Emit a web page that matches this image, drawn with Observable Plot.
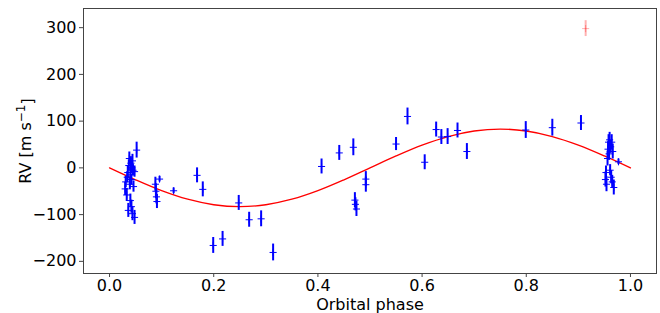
<!DOCTYPE html>
<html>
<head>
<meta charset="utf-8">
<script src="https://cdn.jsdelivr.net/npm/d3@7"></script>
<script src="https://cdn.jsdelivr.net/npm/@observablehq/plot@0.6"></script>
<style>
  html, body { margin: 0; padding: 0; background: #fff; }
</style>
</head>
<body>
<div id="chart"></div>
<script>
// Blue measurements: phase, RV (m/s), error (m/s)
const phase = [
  0.030,0.031,0.033,0.034,0.035,0.036,0.037,0.038,0.039,0.040,0.040,0.041,0.042,0.042,0.043,0.044,0.044,0.045,0.046,0.048,0.048,0.052,
  0.088,0.089,0.090,0.091,0.096,0.123,
  0.168,0.179,0.199,0.217,0.248,0.268,0.291,0.314,
  0.407,0.441,0.468,0.471,0.472,0.474,0.492,0.492,0.550,0.572,0.605,0.627,0.637,0.649,0.668,0.686,
  0.799,0.850,0.905,
  0.952,0.953,0.954,0.956,0.957,0.958,0.959,0.960,0.961,0.962,0.963,0.964,0.965,0.966,0.968,0.977
];
const rv = [
  -45,-30,-58,-20,-10,-91,5,20,-35,-70,-15,10,-25,-83,0,15,-98,-5,-40,-106,-8,38,
  -35,-50,-62,-72,-24,-49,
  -16,-46,-166,-152,-75,-111,-109,-181,
  3,32,44,-69,-78,-88,-24,-36,51,110,12,82,66,67,80,35,
  81,86,96,
  -25,-10,-35,20,40,55,30,60,-5,45,-20,55,-30,35,-42,13
];
const err = [
  14,12,14,12,14,15,12,14,12,14,12,14,12,14,12,14,15,12,12,15,12,17,
  15,16,15,15,6,6,
  16,16,17,16,16,16,17,18,
  16,16,18,16,14,16,16,16,14,18,16,16,16,17,16,17,
  18,18,16,
  16,14,16,16,16,16,14,16,12,14,14,16,14,16,16,6
];
// Faded outlier
const outPhase = [0.914];
const outRv = [298];
const outErr = [17];
// Fitted curve
const fitPhase = [0,0.05,0.10,0.15,0.20,0.25,0.30,0.35,0.40,0.45,0.50,0.55,0.60,0.65,0.70,0.75,0.80,0.85,0.90,0.95,1.00];
const fitRv = [0,-25.6,-48.8,-67.1,-78.9,-83,-78.9,-67.1,-48.8,-25.6,0,25.6,48.8,67.1,78.9,83,78.9,67.1,48.8,25.6,0];
const xTicks = [0,0.2,0.4,0.6,0.8,1.0];
const yTicks = [-200,-100,0,100,200,300];

const pts = phase.map((p,i) => ({p, v: rv[i], e: err[i]}));
const outs = outPhase.map((p,i) => ({p, v: outRv[i], e: outErr[i]}));
const fit = fitPhase.map((p,i) => ({p, v: fitRv[i]}));

const plusSymbol = {
  draw(ctx, size) {
    const r = Math.sqrt(size) / 2;
    ctx.moveTo(-r, 0); ctx.lineTo(r, 0);
    ctx.moveTo(0, -r); ctx.lineTo(0, r);
  }
};

const chart = Plot.plot({
  width: 660,
  height: 313,
  marginLeft: 83,
  marginRight: 4,
  marginTop: 8,
  marginBottom: 40,
  style: {fontFamily: "DejaVu Sans", fontSize: "16px", background: "#fff", color: "#000"},
  x: {domain: [-0.05, 1.05]},
  y: {domain: [-226, 341]},
  marks: [
    Plot.frame({stroke: "#444", strokeWidth: 1}),
    Plot.axisX({ticks: xTicks, tickFormat: d3.format(".1f"), tickSize: 4, tickPadding: 2, fontSize: 16,
      label: "Orbital phase", labelAnchor: "center", labelArrow: "none", labelOffset: 36, stroke: "#444"}),
    Plot.axisY({ticks: yTicks, tickFormat: d3.format("d"), tickSize: 4, tickPadding: 3, fontSize: 16,
      label: "RV [m s−1]", labelAnchor: "center", labelArrow: "none", labelOffset: 64, stroke: "#444"}),
    Plot.line(fit, {x: "p", y: "v", stroke: "red", strokeWidth: 1.3, curve: "catmull-rom"}),
    Plot.ruleX(outs, {x: "p", y1: d => d.v - d.e, y2: d => d.v + d.e, stroke: "red", strokeOpacity: 0.3, strokeWidth: 2}),
    Plot.dot(outs, {x: "p", y: "v", symbol: plusSymbol, r: 4, stroke: "red", strokeOpacity: 0.3, fill: "none", strokeWidth: 1}),
    Plot.ruleX(pts, {x: "p", y1: d => d.v - d.e, y2: d => d.v + d.e, stroke: "blue", strokeWidth: 2}),
    Plot.dot(pts, {x: "p", y: "v", symbol: plusSymbol, r: 4, stroke: "blue", fill: "none", strokeWidth: 1})
  ]
});
// Render the unit exponent as a real superscript
d3.select(chart).selectAll("text").each(function() {
  if (this.textContent === "RV [m s−1]") {
    const t = d3.select(this);
    t.text("");
    t.append("tspan").text("RV [m s");
    t.append("tspan").attr("dy", "-0.45em").attr("font-size", "12px").text("−1");
    t.append("tspan").attr("dy", "0.45em").text("]");
  }
});
document.getElementById("chart").appendChild(chart);
</script>
</body>
</html>
